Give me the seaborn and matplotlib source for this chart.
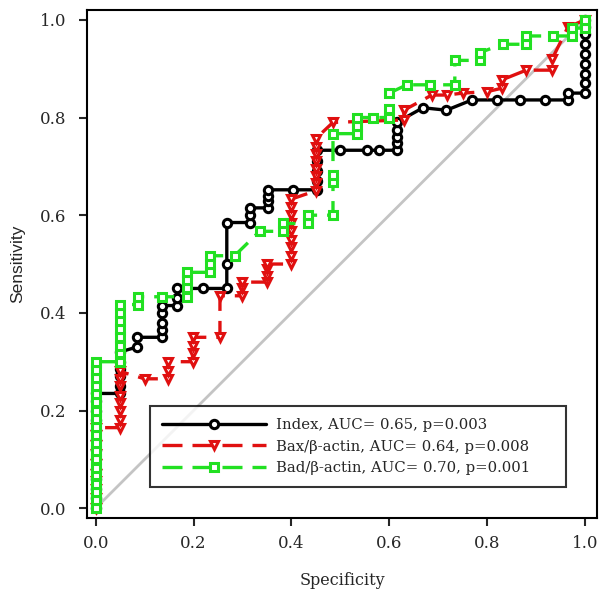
import matplotlib
matplotlib.use("Agg")
import matplotlib.pyplot as plt
import seaborn as sns

# ── Data ───────────────────────────────────────────────────────────────────
index_x = [0, 0, 0, 0, 0, 0, 0, 0, 0, 0, 0, 0, 0,
           0.05, 0.05, 0.05, 0.05, 0.05, 0.05,
           0.084, 0.084,
           0.135, 0.135, 0.135, 0.135, 0.135,
           0.166, 0.166, 0.166,
           0.22, 0.268, 0.268, 0.268,
           0.315, 0.315, 0.315,
           0.352, 0.352, 0.352, 0.352,
           0.403, 0.452, 0.452, 0.452, 0.452, 0.452,
           0.50, 0.554, 0.58, 0.615, 0.615, 0.615, 0.615, 0.615,
           0.669, 0.717, 0.769, 0.82, 0.867, 0.918, 0.965, 0.965,
           1.0, 1.0, 1.0, 1.0, 1.0, 1.0, 1.0, 1.0, 1.0]
index_y = [0, 0.02, 0.04, 0.06, 0.08, 0.10, 0.12, 0.14, 0.16, 0.18, 0.20, 0.22, 0.235,
           0.235, 0.25, 0.27, 0.285, 0.30, 0.32,
           0.33, 0.35,
           0.35, 0.365, 0.38, 0.40, 0.415,
           0.415, 0.43, 0.45,
           0.45, 0.45, 0.50, 0.585,
           0.585, 0.60, 0.615,
           0.615, 0.63, 0.64, 0.652,
           0.652, 0.652, 0.67, 0.69, 0.71, 0.733,
           0.733, 0.733, 0.733, 0.733, 0.748, 0.76, 0.775, 0.79,
           0.82, 0.815, 0.836, 0.836, 0.836, 0.836, 0.836, 0.85,
           0.85, 0.87, 0.89, 0.91, 0.93, 0.95, 0.97, 0.985, 1.0]

bax_x = [0, 0, 0, 0, 0, 0, 0, 0, 0, 0,
         0.05, 0.05, 0.05, 0.05, 0.05, 0.05, 0.05, 0.05,
         0.10, 0.147, 0.147, 0.147,
         0.198, 0.198, 0.198, 0.198,
         0.254, 0.254,
         0.30, 0.30, 0.30,
         0.35, 0.35, 0.35, 0.35,
         0.40, 0.40, 0.40, 0.40, 0.40, 0.40, 0.40, 0.40, 0.40,
         0.45, 0.45, 0.45, 0.45, 0.45, 0.45, 0.45, 0.45,
         0.485, 0.63, 0.63, 0.687, 0.718, 0.75, 0.80, 0.83, 0.83,
         0.88, 0.933, 0.933, 0.965, 1.0]
bax_y = [0, 0.02, 0.04, 0.055, 0.07, 0.09, 0.11, 0.13, 0.15, 0.165,
         0.165, 0.18, 0.20, 0.215, 0.23, 0.25, 0.265, 0.28,
         0.265, 0.265, 0.28, 0.30,
         0.30, 0.317, 0.333, 0.35,
         0.35, 0.435,
         0.435, 0.45, 0.463,
         0.463, 0.475, 0.49, 0.50,
         0.50, 0.517, 0.535, 0.55, 0.567, 0.583, 0.60, 0.617, 0.633,
         0.65, 0.665, 0.68, 0.695, 0.71, 0.725, 0.74, 0.757,
         0.79, 0.795, 0.815, 0.846, 0.846, 0.85, 0.853, 0.86, 0.877,
         0.897, 0.897, 0.92, 0.985, 1.0]

bad_x = [0, 0, 0, 0, 0, 0, 0, 0, 0, 0, 0, 0, 0, 0, 0, 0, 0, 0, 0,
         0.05, 0.05, 0.05, 0.05, 0.05, 0.05, 0.05, 0.05,
         0.086, 0.086, 0.135,
         0.186, 0.186, 0.186, 0.186,
         0.233, 0.233, 0.233,
         0.284, 0.335, 0.382, 0.382, 0.434, 0.434,
         0.485, 0.485, 0.485, 0.485,
         0.534, 0.534, 0.534, 0.566, 0.60, 0.60, 0.60,
         0.636, 0.683, 0.734, 0.734, 0.785, 0.785, 0.832, 0.88, 0.88,
         0.935, 0.973, 0.973, 1.0, 1.0]
bad_y = [0, 0.017, 0.033, 0.05, 0.067, 0.083, 0.10, 0.117, 0.133, 0.15,
         0.167, 0.183, 0.20, 0.217, 0.233, 0.25, 0.267, 0.283, 0.30,
         0.30, 0.317, 0.333, 0.35, 0.367, 0.383, 0.40, 0.417,
         0.417, 0.433, 0.433,
         0.433, 0.45, 0.467, 0.483,
         0.483, 0.50, 0.517,
         0.517, 0.567, 0.567, 0.583, 0.583, 0.60,
         0.60, 0.667, 0.683, 0.767,
         0.767, 0.783, 0.80, 0.80, 0.80, 0.817, 0.85,
         0.867, 0.867, 0.867, 0.917, 0.917, 0.933, 0.95, 0.95, 0.967,
         0.967, 0.967, 0.983, 0.983, 1.0]

labels = ["Index, AUC= 0.65, p=0.003",
          "Bax/\u03b2-actin, AUC= 0.64, p=0.008",
          "Bad/\u03b2-actin, AUC= 0.70, p=0.001"]

# ── Style ──────────────────────────────────────────────────────────────────
sns.set_style("ticks")
plt.rcParams["font.family"] = ["DejaVu Serif"]
plt.rcParams["axes.linewidth"] = 1.5

fig = plt.figure(figsize=(5.99, 5.93), dpi=100)
ax = fig.add_axes([0.145, 0.1265, 0.852, 0.8565])

ax.plot([0, 1], [0, 1], color="#c4c4c4", lw=2, zorder=1)

common = dict(sort=False, estimator=None, lw=2.4, markersize=6,
              markerfacecolor="white", markeredgewidth=2.2, ax=ax)
sns.lineplot(x=index_x, y=index_y, color="black", marker="o",
             markeredgecolor="black", label=labels[0], zorder=2, **common)
sns.lineplot(x=bax_x, y=bax_y, color="#e01010", marker="v",
             markeredgecolor="#e01010", linestyle=(0, (6, 3)),
             label=labels[1], zorder=3, **common)
sns.lineplot(x=bad_x, y=bad_y, color="#22e022", marker="s",
             markeredgecolor="#22e022", linestyle=(0, (6, 3)),
             label=labels[2], zorder=4, **common)

ax.set_xlim(-0.018, 1.025)
ax.set_ylim(-0.02, 1.02)
ax.set_xticks([0, 0.2, 0.4, 0.6, 0.8, 1.0])
ax.set_yticks([0, 0.2, 0.4, 0.6, 0.8, 1.0])
ax.tick_params(axis="both", labelsize=12, length=6, width=1.5, pad=6,
               direction="out", top=False, right=False)
ax.tick_params(axis="y", pad=9)
for s in ax.spines.values():
    s.set_color("black")

ax.set_xlabel("Specificity", fontsize=11.5, labelpad=15)
ax.set_ylabel("Sensitivity", fontsize=12.5, family=["Liberation Sans"], labelpad=10)

# legend box spans a fixed region; entries sit at its left like the original
leg = ax.legend(loc="lower left", bbox_to_anchor=(0.124, 0.061, 0.815, 0.177),
                mode="expand", fontsize=10.7, handlelength=7.0,
                handletextpad=0.7, numpoints=1, borderaxespad=0,
                frameon=True, fancybox=False, borderpad=0.8, labelspacing=0.5)
leg.get_frame().set_edgecolor("black")
leg.get_frame().set_linewidth(1.5)

fig.savefig("out.png", dpi=100)
